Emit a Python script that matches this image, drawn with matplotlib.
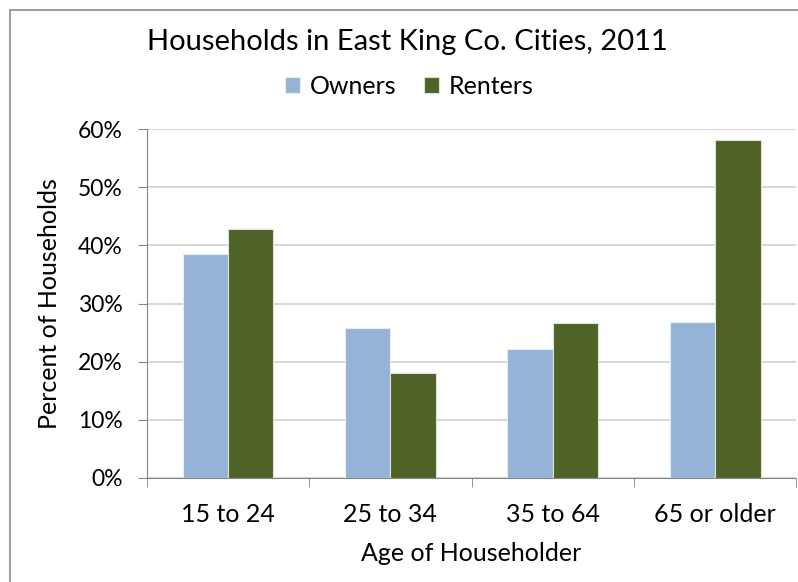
import numpy as np
import matplotlib
matplotlib.use('Agg')
import matplotlib.pyplot as plt
from matplotlib.patches import Rectangle

plt.rcParams['font.family'] = ['Lato', 'DejaVu Sans']

# Data
categories = ['15 to 24', '25 to 34', '35 to 64', '65 or older']
owners = [38.5, 25.8, 22.2, 26.8]
renters = [42.8, 18.0, 26.6, 58.1]
yticks = [0, 10, 20, 30, 40, 50, 60]

fig = plt.figure(figsize=(7.98, 5.82), dpi=100)
ax = fig.add_axes([0.184, 0.179, 0.814, 0.599])

x = np.arange(len(categories))
w = 0.28
ax.bar(x - w / 2, owners, w, color='#95B3D7', edgecolor='#E8EEF5', linewidth=0.8,
       label='Owners', zorder=3)
ax.bar(x + w / 2, renters, w, color='#4F6228', edgecolor='#DDE3D5', linewidth=0.8,
       label='Renters', zorder=3)

ax.set_xlim(-0.5, len(categories) - 0.5)
ax.set_ylim(0, 60)
ax.set_yticks(yticks)
ax.set_yticklabels([f'{t}%' for t in yticks], fontsize=16.5)
ax.set_xticks(x)
ax.set_xticklabels(categories, fontsize=18)
ax.set_xticks(np.arange(len(categories) + 1) - 0.5, minor=True)
ax.tick_params(axis='x', which='major', length=0, pad=18)
ax.tick_params(axis='x', which='minor', length=6.5, color='#868686', direction='out')
ax.tick_params(axis='y', length=6.5, color='#868686', pad=11)
ax.grid(axis='y', color='#D0D0D0', linewidth=1.2, zorder=0)

for side in ['top', 'right']:
    ax.spines[side].set_visible(False)
for side in ['left', 'bottom']:
    ax.spines[side].set_color('#868686')

ax.set_xlabel('Age of Householder', fontsize=18, labelpad=12)
ax.set_ylabel('Percent of Households', fontsize=18, labelpad=12)

fig.text(0.51, 0.928, 'Households in East King Co. Cities, 2011', ha='center', va='center',
         fontsize=21)
fig.legend(loc='center', bbox_to_anchor=(0.513, 0.851), ncol=2, frameon=False,
           fontsize=18, handlelength=0.6, handleheight=0.6, handletextpad=0.4,
           columnspacing=1.1)

# chart border
fig.patches.append(Rectangle((0.012, -0.01), 1.1, 0.993, transform=fig.transFigure,
                             fill=False, edgecolor='#8C8C8C', linewidth=1.2))

fig.savefig('out.png', dpi=100)
